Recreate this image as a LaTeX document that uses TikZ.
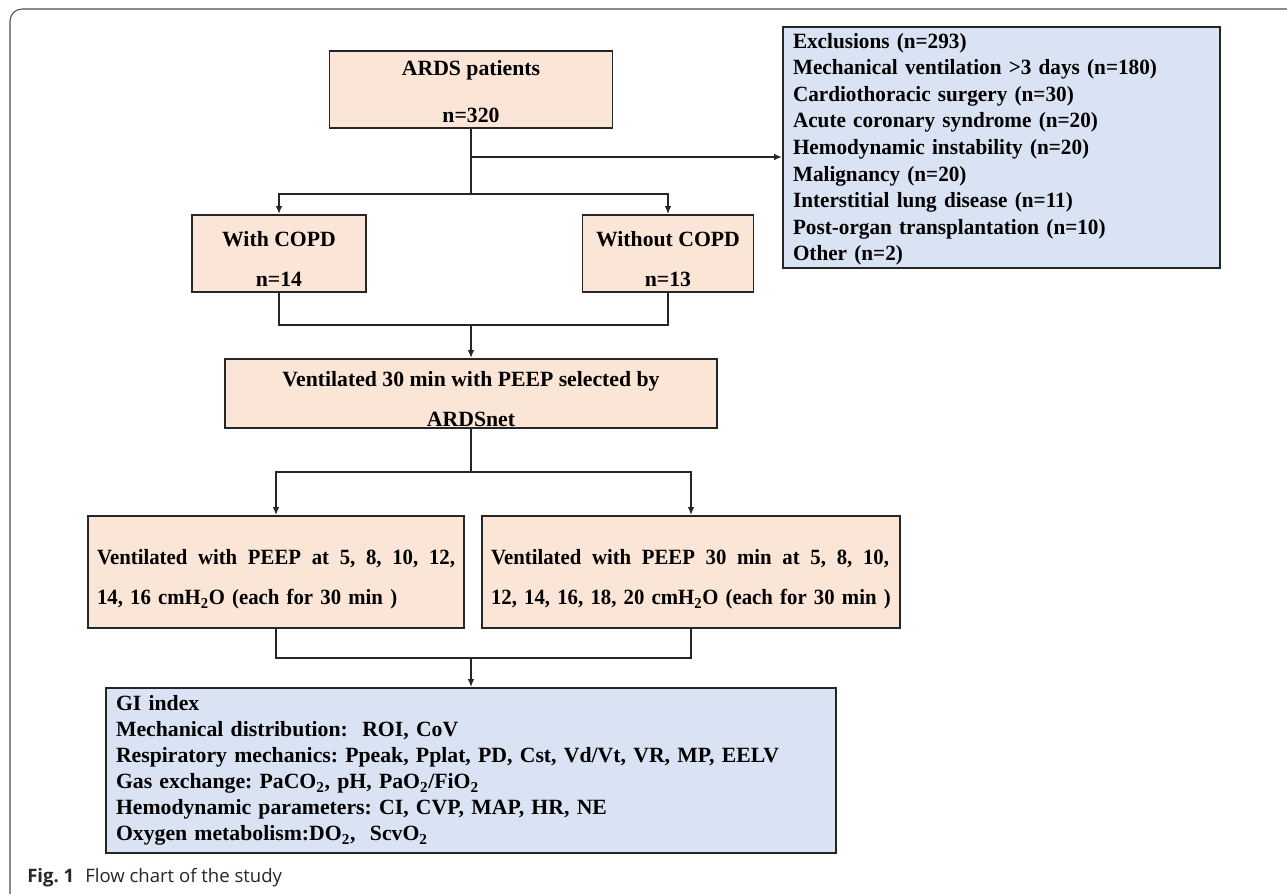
\documentclass[tikz,border=0pt]{standalone}
\usepackage{fontspec}
\setmainfont{Liberation Serif}
\newfontfamily\listfont[FakeStretch=0.975]{Liberation Serif}
\newfontfamily\narrowfont[FakeStretch=0.955]{Liberation Serif}
\newfontfamily\capfont{Open Sans}
\usetikzlibrary{arrows.meta}
\definecolor{peach}{HTML}{FBE5D6}
\definecolor{paleblue}{HTML}{DAE3F3}
\newcommand{\topgap}[1]{\rule{0pt}{#1}}
\newcommand{\fullline}[2]{\makebox[#1][s]{\spaceskip=0pt\relax #2}}
\frenchspacing
\tikzset{
  flowbox/.style={draw=black!85, line width=1.4pt, fill=peach, inner sep=0pt, align=center,
    font=\bfseries\fontsize{16.3}{30}\selectfont},
  infobox/.style={draw=black!85, line width=1.4pt, fill=paleblue, inner xsep=7.5pt, inner ysep=0pt,
    align=left, font=\bfseries\fontsize{16.3}{19.5}\selectfont},
  link/.style={draw=black!85, line width=1.3pt},
  arr/.style={link, -{Latex[length=6pt,width=5pt]}},
}
\begin{document}
\begin{tikzpicture}[x=0.75pt,y=-0.75pt]
\useasboundingbox (0,0) rectangle (1287,893);
\clip (0,0) rectangle (1287,893);
\draw[black!70, line width=0.8pt, rounded corners=9pt] (10,900) -- (10,9) -- (1300,9);

\node[flowbox, minimum width=212.25pt, minimum height=57.75pt, font=\bfseries\fontsize{16.3}{35}\selectfont] (ards) at (471,89.5) {\topgap{14pt}ARDS patients\\n=320};
\node[infobox, text width=312.75pt, minimum height=180.75pt, font=\listfont\bfseries\fontsize{16.3}{19.9}\selectfont] (excl) at (1001.5,147.5) {\topgap{14pt}Exclusions (n=293)\\Mechanical ventilation >3 days (n=180)\\Cardiothoracic surgery (n=30)\\Acute coronary syndrome (n=20)\\Hemodynamic instability (n=20)\\Malignancy (n=20)\\Interstitial lung disease (n=11)\\Post-organ transplantation (n=10)\\Other (n=2)};
\node[flowbox, minimum width=130.5pt, minimum height=57.75pt] (copd1) at (279,253.5) {\topgap{19pt}With COPD\\n=14};
\node[flowbox, minimum width=128.25pt, minimum height=57.75pt] (copd0) at (668,253.5) {\topgap{19pt}Without COPD\\n=13};
\node[flowbox, minimum width=369pt, minimum height=51.75pt] (vent0) at (471,393.5) {\topgap{19pt}Ventilated 30 min with PEEP selected by\\ARDSnet};
\node[flowbox, minimum width=282pt, minimum height=84pt, text width=268.5pt, align=left, font=\narrowfont\bfseries\fontsize{16.3}{30}\selectfont] (vent1) at (276,572) {\topgap{22.5pt}\fullline{268.5pt}{Ventilated with PEEP at 5, 8, 10, 12,}\\14, 16 cmH\textsubscript{2}O (each for 30 min )};
\node[flowbox, minimum width=313.5pt, minimum height=84pt, text width=300pt, align=left, font=\narrowfont\bfseries\fontsize{16.3}{30}\selectfont] (vent2) at (691,572) {\topgap{22.5pt}\fullline{298.5pt}{Ventilated with PEEP 30 min at 5, 8, 10,}\\12, 14, 16, 18, 20 cmH\textsubscript{2}O (each for 30 min )};
\node[infobox, text width=532.5pt, minimum height=123.75pt] (gi) at (471,770.5) {GI index\\Mechanical distribution:\ \ ROI, CoV\\Respiratory mechanics: Ppeak, Pplat, PD, Cst, Vd/Vt, VR, MP, EELV\\Gas exchange: PaCO\textsubscript{2}, pH, PaO\textsubscript{2}/FiO\textsubscript{2}\\Hemodynamic parameters: CI, CVP, MAP, HR, NE\\Oxygen metabolism:DO\textsubscript{2},\ \ ScvO\textsubscript{2}};
\node[anchor=base west, inner sep=0pt, text=black!85, font=\capfont\fontsize{13.9}{16}\selectfont] (cap) at (27,882) {\textbf{Fig. 1}\hspace{0.6em}Flow chart of the study};

\coordinate (j0) at (471,194);
\coordinate (j1) at (471,157);
\coordinate (j2) at (471,325);
\coordinate (j3) at (471,472);
\coordinate (j4) at (471,658);
\draw[link] (ards) -- (j0);
\draw[arr] (j1) -- (j1 -| excl.west);
\draw[arr] (j0) -| (copd1.north);
\draw[arr] (j0) -| (copd0.north);
\draw[link] (copd1.south) |- (j2);
\draw[link] (copd0.south) |- (j2);
\draw[arr] (j2) -- (vent0);
\draw[link] (vent0) -- (j3);
\draw[arr] (j3) -| (vent1.north);
\draw[arr] (j3) -| (vent2.north);
\draw[link] (vent1.south) |- (j4);
\draw[link] (vent2.south) |- (j4);
\draw[arr] (j4) -- (gi);

\end{tikzpicture}
\end{document}
